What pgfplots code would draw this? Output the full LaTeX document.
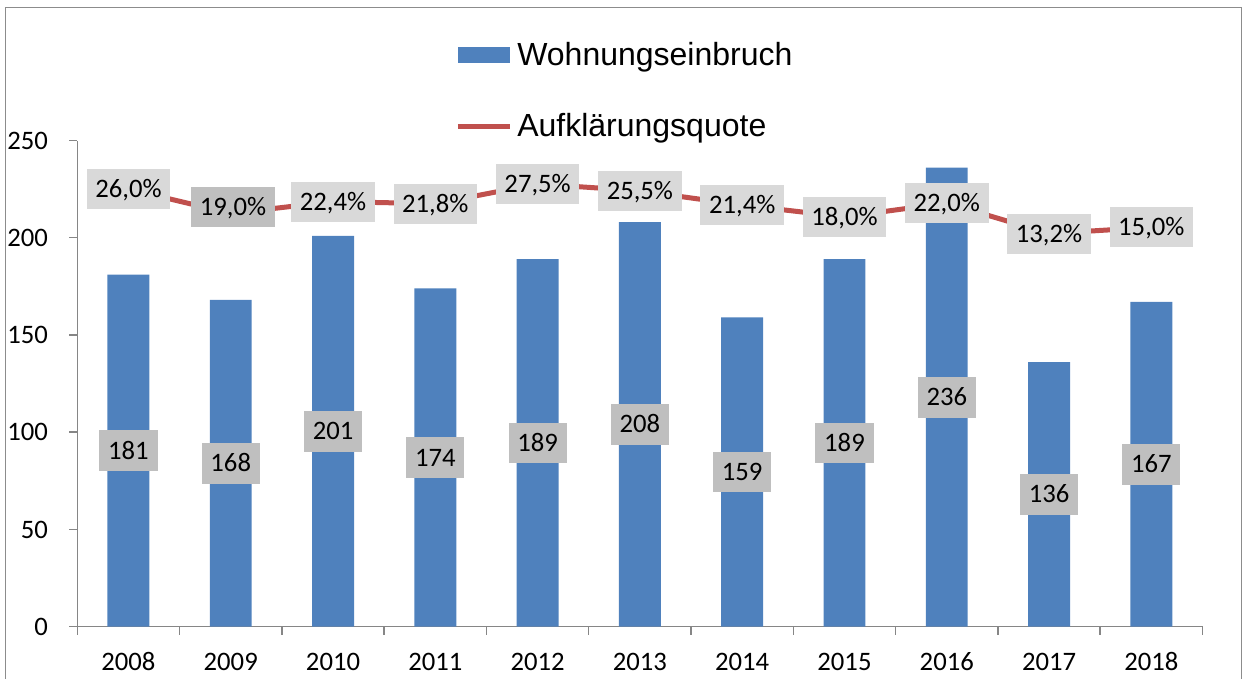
\documentclass[border=0pt]{standalone}
\usepackage{fontspec}
\setmainfont{Carlito}
\newfontfamily\legfont{Liberation Sans}
\usepackage{pgfplots}
\usepackage{pgfplotstable}
\pgfplotsset{compat=1.18}
\pgfplotsset{/pgf/number format/assume math mode=true}
\definecolor{barblue}{HTML}{4F81BD}
\definecolor{linered}{HTML}{C0504D}
\definecolor{axgray}{HTML}{868686}
\definecolor{lblgray}{HTML}{BFBFBF}
\definecolor{lgray}{HTML}{D9D9D9}
\definecolor{framegray}{HTML}{8C8C8C}

\pgfplotstableread{
x year count
0 2008 181
1 2009 168
2 2010 201
3 2011 174
4 2012 189
5 2013 208
6 2014 159
7 2015 189
8 2016 236
9 2017 136
10 2018 167
}\bars

\pgfplotstableread{
x rate
0 26.0
1 19.0
2 22.4
3 21.8
4 27.5
5 25.5
6 21.4
7 18.0
8 22.0
9 13.2
10 15.0
}\rates

\pgfplotstableread{
x rate
1 19.0
}\rateshifted

\begin{document}
\begin{tikzpicture}
\useasboundingbox (-57.98pt,-38.48pt) rectangle (877.28pt,470.03pt);
\draw[framegray, line width=0.75pt] (-53.5pt,-45pt) -- (-53.5pt,464.4pt) -- (873.5pt,464.4pt) -- (873.5pt,-45pt);
\begin{axis}[
  at={(0,0)}, anchor=south west,
  scale only axis, width=843.9pt, height=364.65pt,
  xmin=-0.5, xmax=10.5, ymin=0, ymax=250,
  axis x line*=bottom, axis y line*=left,
  axis line style={axgray, line width=1.1pt},
  ytick={0,50,...,250},
  xtick={-0.5,0.5,...,10.5}, xticklabels={},
  extra x ticks={0,1,...,10},
  extra x tick labels={2008,2009,2010,2011,2012,2013,2014,2015,2016,2017,2018},
  extra x tick style={major tick length=0pt},
  tick align=outside,
  tick style={axgray, line width=1.1pt},
  major tick length=6pt,
  tick label style={font=\fontsize{20}{24}\selectfont, text=black},
  yticklabel style={xshift=-12.5pt},
  xticklabel style={yshift=-16pt},
  legend style={at={(rel axis cs:0.3357,1.2026)}, anchor=north west, draw=none, fill=none, inner sep=0pt, row sep=34.5pt, column sep=3.75pt, font=\legfont\fontsize{24}{28}\selectfont, nodes={inner sep=0pt}},
  legend cell align=left,
  clip=false,
]
\addplot[ybar, bar width=0.41, fill=barblue, draw=none,
  legend image code/.code={\fill[barblue] (0pt,-6pt) rectangle (39pt,6pt);},
  point meta=y,
  nodes near coords,
  visualization depends on=y \as \rawy,
  every node near coord/.append style={anchor=center, shift={(axis direction cs:0,-\rawy/2)}, fill=lblgray, text=black, font=\fontsize{20}{24}\selectfont, inner xsep=6.6pt, inner ysep=8.9pt, text height=12.8pt, text depth=0pt},
] table[x=x, y=count] {\bars};
\addlegendentry{Wohnungseinbruch}
\addlegendimage{legend image code/.code={\draw[linered, line width=3.75pt] (0pt,0pt) -- (39pt,0pt);}}
\addlegendentry{Aufklärungsquote}
\end{axis}
\begin{axis}[
  at={(0,0)}, anchor=south west,
  scale only axis, width=843.9pt, height=364.65pt,
  xmin=-0.5, xmax=10.5, ymin=-100, ymax=40,
  hide x axis, hide y axis, clip=false,
]
\addplot[linered, line width=3.75pt, mark=none] table[x=x, y=rate] {\rates};
\addplot[draw=none, mark=none, point meta=y,
  skip coords between index={1}{2},
  nodes near coords={\pgfmathprintnumber[fixed,fixed zerofill,precision=1,use comma]{\pgfplotspointmeta}\%},
  every node near coord/.append style={anchor=center, fill=lgray, text=black, font=\fontsize{20}{24}\selectfont, inner xsep=6.5pt, inner ysep=8.6pt, text height=12.8pt, text depth=0pt},
] table[x=x, y=rate] {\rates};
\addplot[draw=none, mark=none, point meta=y,
  nodes near coords={\pgfmathprintnumber[fixed,fixed zerofill,precision=1,use comma]{\pgfplotspointmeta}\%},
  every node near coord/.append style={anchor=center, xshift=1.7pt, yshift=4.8pt, fill=lblgray, text=black, font=\fontsize{20}{24}\selectfont, inner xsep=6.5pt, inner ysep=8.6pt, text height=12.8pt, text depth=0pt},
] table[x=x, y=rate] {\rateshifted};
\end{axis}
\end{tikzpicture}
\end{document}
